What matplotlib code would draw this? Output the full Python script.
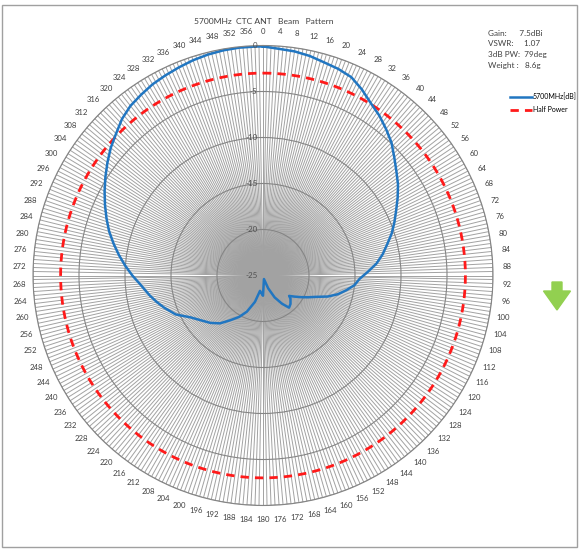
import numpy as np
import matplotlib
matplotlib.use("Agg")
import matplotlib.pyplot as plt
from matplotlib.patches import Rectangle, FancyArrow

plt.rcParams['font.family'] = ['Lato', 'DejaVu Sans']

# measured pattern, angle in deg (clockwise from top), gain in dB
angles = [0, 4, 8, 12, 16, 20, 24, 28, 32, 36, 40, 44, 48, 52, 56, 60, 64, 68, 72, 76,
          80, 84, 88, 92, 96, 100, 104, 108, 112, 116, 120, 124, 128, 130, 136, 141,
          146, 152, 158, 165, 180, 186, 191, 197, 204, 210, 216, 222, 228, 234, 240,
          246, 252, 256, 260, 266, 270, 274, 278, 282, 286, 290, 294, 298, 302, 306,
          310, 314, 318, 322, 326, 330, 334, 338, 342, 346, 350, 354, 358]
gain_db = [-0.1, -0.3, -0.4, -0.6, -0.9, -1.1, -1.4, -2.1, -2.9, -3.5, -4.2, -4.9, -5.8,
           -6.6, -7.3, -8.1, -8.9, -9.6, -10.3, -11.1, -11.8, -12.6, -13.6, -14.5, -15.0,
           -15.8, -16.6, -17.6, -18.8, -19.6, -20.3, -20.9, -21.4, -21.1, -20.7, -20.5,
           -21.3, -22.3, -23.5, -24.6, -22.8, -23.1, -23.3, -22.0, -20.7, -19.8, -19.0,
           -18.0, -17.3, -16.7, -15.9, -14.6, -13.7, -13.1, -12.5, -11.6, -10.8, -10.0,
           -9.2, -8.4, -7.6, -6.9, -6.2, -5.5, -4.8, -4.1, -3.4, -2.8, -2.1, -1.6, -1.3,
           -1.0, -0.8, -0.6, -0.4, -0.25, -0.15, -0.1, -0.1]
half_power_db = -3.0

title = "5700MHz  CTC ANT   Beam   Pattern"
info_lines = ["Gain:      7.5dBi", "VSWR:     1.07", "3dB PW:  79deg", "Weight :   8.6g"]
r_ticks = [0, -5, -10, -15, -20, -25]

W, H = 580, 550
fig = plt.figure(figsize=(W / 100, H / 100), dpi=100)

# polar area: centre (263, 275.5) px, radius 230 px
cx, cy, R = 263, 275.5, 230
ax = fig.add_axes([(cx - R) / W, (H - cy - R) / H, 2 * R / W, 2 * R / H], projection='polar')
ax.set_theta_zero_location('N')
ax.set_theta_direction(-1)
ax.set_ylim(-25, 0)

# one spoke per degree, label every 4 deg
deg = np.arange(360)
ax.set_xticks(np.deg2rad(deg))
ax.set_xticklabels([])
ax.tick_params(axis='x', length=0)
ax.xaxis.grid(True, color='#a2a2a2', lw=0.7)
for d in deg[::4]:
    ax.text(np.deg2rad(d), 1.55, str(d), ha='center', va='center', fontsize=5.6,
            color='#404040', clip_on=False)

ax.set_yticks(r_ticks)
ax.set_yticklabels([])
ax.tick_params(axis='y', length=0)
ax.yaxis.grid(True, color='#858585', lw=0.8)
ax.spines['polar'].set_color('#858585')
ax.spines['polar'].set_linewidth(0.8)

for v in r_ticks:
    ax.annotate(str(v), xy=(0, v), xytext=(-4, 0), textcoords='offset points',
                ha='right', va='center', fontsize=5.8, color='#505050')

# half power ring
th = np.deg2rad(np.append(deg, 0))
ax.plot(th, np.full(th.shape, half_power_db), color='#ff1a1a', lw=2,
        linestyle=(0, (3, 2.2)), label='Half Power')

# pattern, closed loop
th_p = np.deg2rad(angles + [angles[0]])
g_p = gain_db + [gain_db[0]]
ax.plot(th_p, g_p, color='#2176c1', lw=1.8, label='5700MHz[dB]')

fig.text(264 / W, 1 - 22 / H, title, ha='center', va='center', fontsize=6.1, color='#404040')

for i, s in enumerate(info_lines):
    fig.text(488 / W, 1 - (33 + i * 10.8) / H, s, ha='left', va='center',
             fontsize=5.9, color='#404040')

h, l = ax.get_legend_handles_labels()
fig.legend(h[::-1], l[::-1], loc='upper left', bbox_to_anchor=(510 / W, 1 - 93 / H),
           frameon=False, fontsize=5.0, handlelength=3.1, handletextpad=0.15,
           labelspacing=0.85, borderpad=0, borderaxespad=0)

# green arrow
fig.add_artist(FancyArrow(5.57, (H - 282) / 100, 0, -0.28, width=0.10, head_width=0.27,
                          head_length=0.19, length_includes_head=True, color='#92d050',
                          transform=fig.dpi_scale_trans))

# outer frame
fig.add_artist(Rectangle((0.02, 0.03), 5.75, 5.42, fill=False, edgecolor='#a0a0a0',
                         lw=1, transform=fig.dpi_scale_trans))

fig.savefig("out.png", dpi=100)
